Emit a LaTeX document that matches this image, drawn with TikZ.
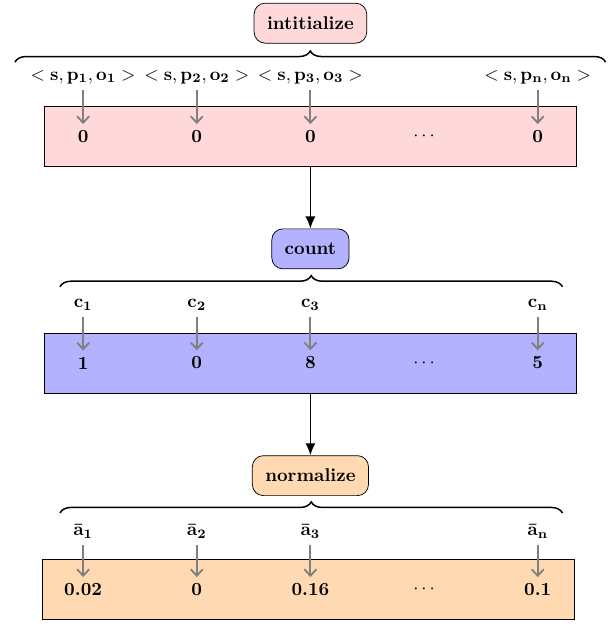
\documentclass[tikz,border=0pt]{standalone}
\usepackage{tikz}
\usepackage{color}
\usetikzlibrary{decorations.pathreplacing,arrows.meta}

\begin{document}
\begin{tikzpicture}[
  stepbox/.style={draw,rounded corners=6pt,minimum height=0.76cm,inner xsep=7pt,font=\bfseries},
  cellrow/.style={draw,minimum width=10.1cm,minimum height=1.14cm},
  val/.style={font=\bfseries},
  feed/.style={line width=1pt,gray,-{Straight Barb[length=3.5pt,width=6.5pt]}},
  flow/.style={thick,-{Latex[length=6.5pt,width=5.5pt]}},
  grp/.style={thick,decorate,decoration={brace,amplitude=6pt}}]
\useasboundingbox (0,0) rectangle (11.65,-11.86);

% initialize
\node[stepbox,fill=red!15] (init) at (5.9,-0.44) {intitialize};
\draw[grp] (0.285,-1.18) -- (11.51,-1.18);
\node (l11) at (1.58,-1.46) {$<\mathbf{s,p_1,o_1}>$};
\node (l12) at (3.74,-1.46) {$<\mathbf{s,p_2,o_2}>$};
\node (l13) at (5.9,-1.46) {$<\mathbf{s,p_3,o_3}>$};
\node (l15) at (10.22,-1.46) {$<\mathbf{s,p_n,o_n}>$};
\node[cellrow,fill=red!15] (r1) at (5.9,-2.59) {};
\node[val] (v11) at (1.58,-2.6) {0};
\node[val] (v12) at (3.74,-2.6) {0};
\node[val] (v13) at (5.9,-2.6) {0};
\node (v14) at (8.06,-2.6) {$\cdots$};
\node[val] (v15) at (10.22,-2.6) {0};
\draw[feed] (l11) -- (v11);
\draw[feed] (l12) -- (v12);
\draw[feed] (l13) -- (v13);
\draw[feed] (l15) -- (v15);

% count
\node[stepbox,fill=blue!30] (count) at (5.9,-4.73) {count};
\draw[flow] (r1) -- (count);
\draw[grp] (1.14,-5.45) -- (10.69,-5.45);
\node (l21) at (1.58,-5.8) {$\mathbf{c_1}$};
\node (l22) at (3.74,-5.8) {$\mathbf{c_2}$};
\node (l23) at (5.9,-5.8) {$\mathbf{c_3}$};
\node (l25) at (10.22,-5.8) {$\mathbf{c_n}$};
\node[cellrow,fill=blue!30] (r2) at (5.9,-6.9) {};
\node[val] (v21) at (1.58,-6.9) {1};
\node[val] (v22) at (3.74,-6.9) {0};
\node[val] (v23) at (5.9,-6.9) {8};
\node (v24) at (8.06,-6.9) {$\cdots$};
\node[val] (v25) at (10.22,-6.9) {5};
\draw[feed] (l21) -- (v21);
\draw[feed] (l22) -- (v22);
\draw[feed] (l23) -- (v23);
\draw[feed] (l25) -- (v25);

% normalize
\node[stepbox,fill=orange!30] (norm) at (5.9,-9.04) {normalize};
\draw[flow] (r2) -- (norm);
\draw[grp] (1.14,-9.75) -- (10.69,-9.75);
\node (l31) at (1.58,-10.1) {$\mathbf{\bar{a}_1}$};
\node (l32) at (3.74,-10.1) {$\mathbf{\bar{a}_2}$};
\node (l33) at (5.9,-10.1) {$\mathbf{\bar{a}_3}$};
\node (l35) at (10.22,-10.1) {$\mathbf{\bar{a}_n}$};
\node[cellrow,fill=orange!30] (r3) at (5.86,-11.2) {};
\node[val] (v31) at (1.58,-11.21) {0.02};
\node[val] (v32) at (3.74,-11.21) {0};
\node[val] (v33) at (5.9,-11.21) {0.16};
\node (v34) at (8.06,-11.21) {$\cdots$};
\node[val] (v35) at (10.22,-11.21) {0.1};
\draw[feed] (l31) -- (v31);
\draw[feed] (l32) -- (v32);
\draw[feed] (l33) -- (v33);
\draw[feed] (l35) -- (v35);
\end{tikzpicture}
\end{document}
